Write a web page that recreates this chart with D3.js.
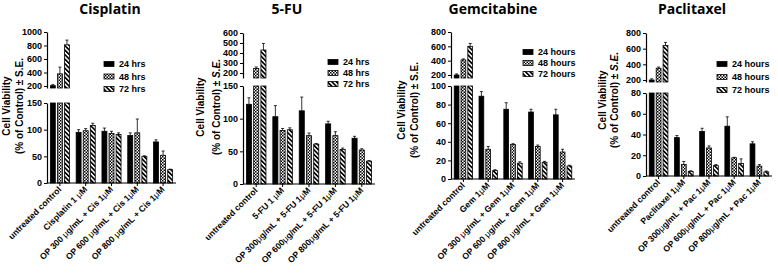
<!DOCTYPE html>
<html>
<head>
<meta charset="utf-8">
<script src="https://cdn.jsdelivr.net/npm/d3@7"></script>
<style>
  body { margin: 0; background: #fff; }
  svg text { font-family: "Liberation Sans", Arial, sans-serif; font-weight: bold; fill: #000; }
  .title { font-family: "Open Sans", sans-serif; font-weight: 700; }
</style>
</head>
<body>
<div id="chart"></div>
<script>
// ---- data ----
const timeLabelsHrs = ["24 hrs", "48 hrs", "72 hrs"];
const timeLabelsHours = ["24 hours", "48 hours", "72 hours"];

const cisLabels = ["untreated control", "Cisplatin 1 |μ|M", "OP 300 |μ|g/mL + Cis 1|μ|M", "OP 600 |μ|g/mL + Cis 1|μ|M", "OP 800 |μ|g/mL + Cis 1|μ|M"];
const cis24 = [205, 95, 97, 89, 77];
const cis48 = [380, 98, 93, 94, 52];
const cis72 = [810, 108, 91, 50, 25];
const cisErr24 = [15, 5, 6, 5, 4];
const cisErr48 = [100, 4, 4, 26, 8];
const cisErr72 = [70, 4, 3, 1, 1];

const fuLabels = ["untreated control", "5-FU 1 |μ|M", "OP 300|μ|g/mL + 5-FU 1|μ|M", "OP 600|μ|g/mL + 5-FU 1|μ|M", "OP 800|μ|g/mL + 5-FU 1|μ|M"];
const fu24 = [122, 103, 112, 92, 70];
const fu48 = [245, 82, 74, 74, 52];
const fu72 = [430, 83, 61, 53, 35];
const fuErr24 = [10, 17, 21, 4, 3];
const fuErr48 = [15, 3, 4, 6, 2];
const fuErr72 = [65, 3, 1, 2, 1];

const gemLabels = ["untreated control", "Gem 1|μ|M", "OP 300 |μ|g/mL + Gem 1|μ|M", "OP 600 |μ|g/mL + Gem 1|μ|M", "OP 800 |μ|g/mL + Gem 1|μ|M"];
const gem24 = [200, 89, 75, 72, 69];
const gem48 = [410, 32, 37, 35, 29];
const gem72 = [600, 9, 17, 18, 14];
const gemErr24 = [15, 5, 7, 3, 6];
const gemErr48 = [15, 3, 1, 1.5, 3];
const gemErr72 = [40, 1, 1.5, 1, 0.8];

const pacLabels = ["untreated control", "Paclitaxel 1|μ|M", "OP 300|μ|g/mL + Pac 1|μ|M", "OP 600|μ|g/mL + Pac 1|μ|M", "OP 800|μ|g/mL + Pac 1|μ|M"];
const pac24 = [200, 37, 43, 48, 31];
const pac48 = [350, 11, 27, 17.5, 9.5];
const pac72 = [640, 4.5, 10, 12, 4];
const pacErr24 = [15, 2, 3, 9, 2];
const pacErr48 = [15, 3, 2, 0.5, 1.5];
const pacErr72 = [40, 0.5, 1, 4.5, 0.8];

const cisTopTicks = [200, 400, 600, 800, 1000], cisLowTicks = [0, 50, 100, 150];
const fuTopTicks = [200, 300, 400, 500, 600], fuLowTicks = [0, 50, 100, 150];
const gemTopTicks = [200, 400, 600, 800], gemLowTicks = [0, 20, 40, 60, 80, 100];
const pacTopTicks = [200, 400, 600, 800], pacLowTicks = [0, 20, 40, 60, 80];

// ---- panel layouts ----
const panels = [
  {title: "Cisplatin", titleX: 110, labels: cisLabels, vals: [cis24, cis48, cis72], errs: [cisErr24, cisErr48, cisErr72],
   topTicks: cisTopTicks, lowTicks: cisLowTicks, times: timeLabelsHrs, italicSE: false,
   x0: 47, x1: 176, yTop: 32, y200: 86, yBreak: 88, yLowTop: 103, yLowBot: 183,
   ylab1: 6, ylab2: 19, ylabY: 106, legX: 104, legY: 64, legStep: 12.5},
  {title: "5-FU", titleX: 287, labels: fuLabels, vals: [fu24, fu48, fu72], errs: [fuErr24, fuErr48, fuErr72],
   topTicks: fuTopTicks, lowTicks: fuLowTicks, times: timeLabelsHrs, italicSE: true,
   x0: 243, x1: 375, yTop: 33, y200: 73, yBreak: 78, yLowTop: 86, yLowBot: 184,
   ylab1: 200, ylab2: 216, ylabY: 107, legX: 328, legY: 62, legStep: 11},
  {title: "Gemcitabine", titleX: 493, labels: gemLabels, vals: [gem24, gem48, gem72], errs: [gemErr24, gemErr48, gemErr72],
   topTicks: gemTopTicks, lowTicks: gemLowTicks, times: timeLabelsHours, italicSE: false,
   x0: 451, x1: 575, yTop: 32, y200: 75, yBreak: 78, yLowTop: 86, yLowBot: 179,
   ylab1: 401, ylab2: 414, ylabY: 110, legX: 523, legY: 52, legStep: 11},
  {title: "Paclitaxel", titleX: 692, labels: pacLabels, vals: [pac24, pac48, pac72], errs: [pacErr24, pacErr48, pacErr72],
   topTicks: pacTopTicks, lowTicks: pacLowTicks, times: timeLabelsHours, italicSE: true,
   x0: 646, x1: 772, yTop: 33, y200: 80, yBreak: 82, yLowTop: 93, yLowBot: 176,
   ylab1: 602, ylab2: 614, ylabY: 100, legX: 717, legY: 64, legStep: 13}
];

const W = 778, H = 276;
const svg = d3.select("#chart").append("svg")
  .attr("width", W).attr("height", H);

// fills: solid, checker, diagonal stripes
const defs = svg.append("defs");
const chk = defs.append("pattern").attr("id", "chk")
  .attr("patternUnits", "userSpaceOnUse").attr("width", 3).attr("height", 3);
chk.append("rect").attr("width", 3).attr("height", 3).attr("fill", "#fff");
chk.append("rect").attr("width", 1.5).attr("height", 1.5).attr("fill", "#000");
chk.append("rect").attr("x", 1.5).attr("y", 1.5).attr("width", 1.5).attr("height", 1.5).attr("fill", "#000");

const str = defs.append("pattern").attr("id", "str")
  .attr("patternUnits", "userSpaceOnUse").attr("width", 3.2).attr("height", 3.2)
  .attr("patternTransform", "rotate(-45)");
str.append("rect").attr("width", 3.2).attr("height", 3.2).attr("fill", "#fff");
str.append("rect").attr("width", 1.7).attr("height", 3.2).attr("fill", "#000");

const fills = ["#000", "url(#chk)", "url(#str)"];

// label text with mu in a lighter face
function richLabel(sel, str) {
  str.split("|").forEach(part => {
    sel.append("tspan").text(part)
      .style("font-weight", part === "μ" ? "normal" : "bold");
  });
}

panels.forEach(p => {
  const g = svg.append("g");

  const x = d3.scaleBand().domain(d3.range(p.labels.length)).range([p.x0, p.x1])
    .paddingInner(0.26).paddingOuter(0.13);
  const xs = d3.scaleBand().domain([0, 1, 2]).range([0, x.bandwidth()]).paddingInner(0.3);

  const lowMax = p.lowTicks[p.lowTicks.length - 1];
  const topMax = p.topTicks[p.topTicks.length - 1];
  const yLow = d3.scaleLinear().domain([0, lowMax]).range([p.yLowBot, p.yLowTop]);
  const yTop0 = d3.scaleLinear().domain([200, topMax]).range([p.y200, p.yTop]);
  const yTop = d3.scaleLinear().domain([yTop0.invert(p.yBreak), topMax]).range([p.yBreak, p.yTop]);
  const topMin = yTop.domain()[0];

  // title
  g.append("text").attr("class", "title")
    .attr("x", p.titleX).attr("y", 14)
    .attr("text-anchor", "middle").style("font-size", "14px")
    .text(p.title);

  // bars
  p.vals.forEach((series, si) => {
    series.forEach((v, gi) => {
      const bx = x(gi) + xs(si), bw = xs.bandwidth();
      // lower segment (cut at the break)
      const lv = Math.min(v, lowMax);
      g.append("rect")
        .attr("x", bx).attr("width", bw)
        .attr("y", yLow(lv)).attr("height", yLow(0) - yLow(lv))
        .attr("fill", fills[si]).attr("stroke", "#000").attr("stroke-width", 0.8);
      // upper segment
      if (v > topMin) {
        g.append("rect")
          .attr("x", bx).attr("width", bw)
          .attr("y", yTop(v)).attr("height", yTop(topMin) - yTop(v))
          .attr("fill", fills[si]).attr("stroke", "#000").attr("stroke-width", 0.8);
      }
      // error bar, upper side only
      const sc = v > lowMax ? yTop : yLow;
      const top = Math.min(v + p.errs[si][gi], v > lowMax ? topMax : lowMax);
      const cx = bx + bw / 2;
      g.append("line")
        .attr("x1", cx).attr("x2", cx)
        .attr("y1", sc(v)).attr("y2", sc(top))
        .attr("stroke", "#000").attr("stroke-width", 0.8);
      g.append("line")
        .attr("x1", cx - 1.5).attr("x2", cx + 1.5)
        .attr("y1", sc(top)).attr("y2", sc(top))
        .attr("stroke", "#000").attr("stroke-width", 0.8);
    });
  });

  // axes
  const axLow = g.append("g").attr("transform", `translate(${p.x0},0)`)
    .call(d3.axisLeft(yLow).tickValues(p.lowTicks).tickFormat(d3.format("d"))
      .tickSize(3).tickSizeOuter(0).tickPadding(2));
  const axTop = g.append("g").attr("transform", `translate(${p.x0},0)`)
    .call(d3.axisLeft(yTop).tickValues(p.topTicks).tickFormat(d3.format("d"))
      .tickSize(3).tickSizeOuter(0).tickPadding(2));
  const axX = g.append("g").attr("transform", `translate(0,${p.yLowBot})`)
    .call(d3.axisBottom(x).tickSize(3).tickSizeOuter(0).tickFormat(""));

  [axLow, axTop, axX].forEach(a => {
    a.select(".domain").attr("stroke-width", 1.2);
    a.selectAll(".tick line").attr("stroke-width", 1);
    a.selectAll(".tick text").style("font-size", "9px").style("font-weight", "bold")
      .attr("font-family", null);
  });
  axX.select(".domain").attr("d", `M${p.x0},0H${p.x1}`);

  // rotated category labels
  p.labels.forEach((lab, gi) => {
    const cx = x(gi) + x.bandwidth() / 2 + 2;
    const t = g.append("text")
      .attr("transform", `translate(${cx},${p.yLowBot + 7}) rotate(-45)`)
      .attr("text-anchor", "end").style("font-size", "8.6px");
    richLabel(t, lab);
  });

  // y axis title
  g.append("text")
    .attr("transform", `translate(${p.ylab1 + 3.5},${p.ylabY}) rotate(-90)`)
    .attr("text-anchor", "middle").style("font-size", "10px")
    .text("Cell Viability");
  const yl2 = g.append("text")
    .attr("transform", `translate(${p.ylab2 + 3.5},${p.ylabY}) rotate(-90)`)
    .attr("text-anchor", "middle").style("font-size", "10px");
  yl2.append("tspan").text("(% of Control) ± ");
  yl2.append("tspan").text("S.E.").style("font-style", p.italicSE ? "italic" : "normal");

  // legend
  p.times.forEach((lab, si) => {
    const ly = p.legY + si * p.legStep;
    g.append("rect")
      .attr("x", p.legX).attr("y", ly - 2.5).attr("width", 10).attr("height", 5)
      .attr("fill", fills[si]).attr("stroke", "#000").attr("stroke-width", 0.8);
    g.append("text")
      .attr("x", p.legX + 15).attr("y", ly + 3.2)
      .style("font-size", "9px").text(lab);
  });
});
</script>
</body>
</html>
